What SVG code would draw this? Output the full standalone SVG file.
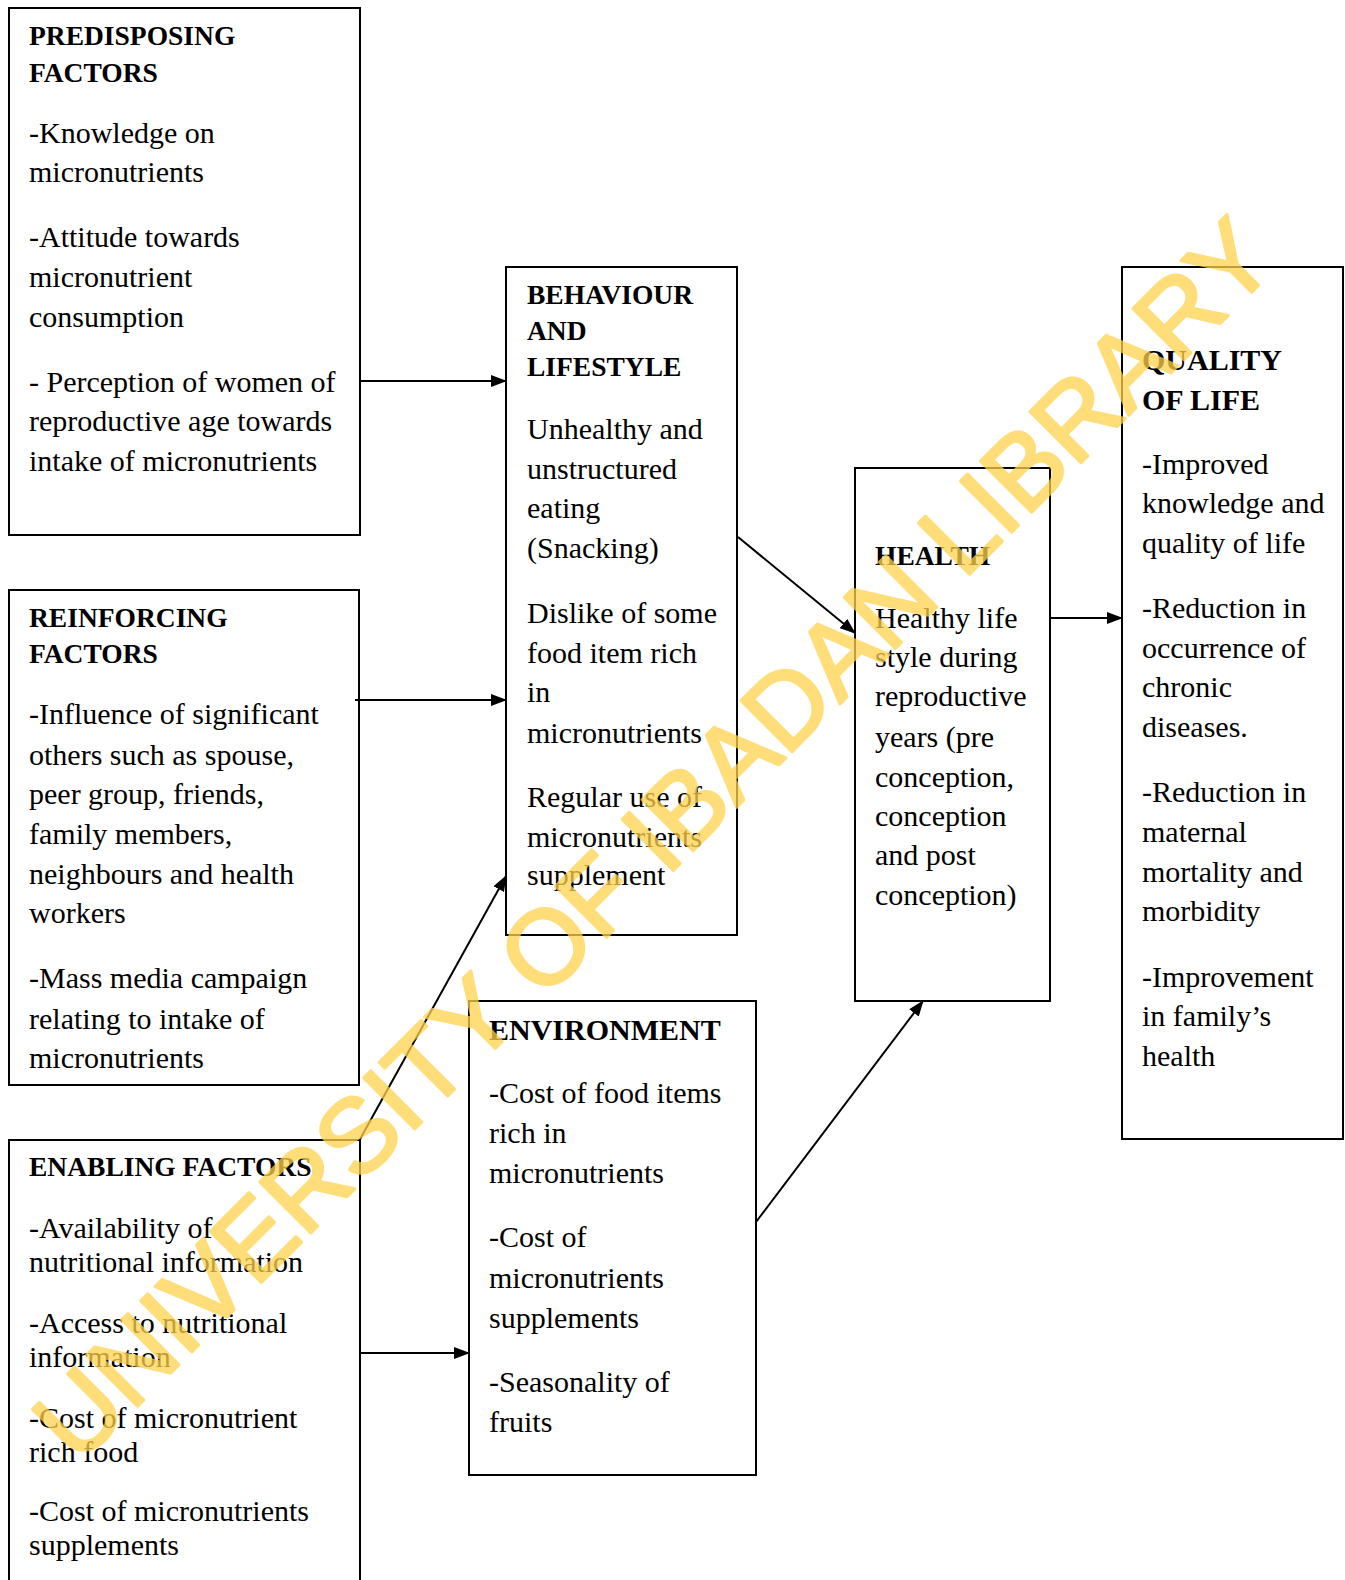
<svg xmlns="http://www.w3.org/2000/svg" width="1345" height="1580" viewBox="0 0 1345 1580">
<defs>
<marker id="ah" markerWidth="16" markerHeight="12" refX="15" refY="6" orient="auto" markerUnits="userSpaceOnUse">
<path d="M0,0 L16,6 L0,12 z" fill="#000"/>
</marker>
<style>
.box{fill:#fff;stroke:#000;stroke-width:2}
.t{font-family:"Liberation Serif","Times New Roman",serif;font-size:30px;fill:#000}
.h{font-family:"Liberation Serif","Times New Roman",serif;font-size:27.5px;font-weight:bold;fill:#000}
.hl{font-family:"Liberation Serif","Times New Roman",serif;font-size:30px;font-weight:bold;fill:#000}
.c{stroke:#000;stroke-width:2;fill:none;marker-end:url(#ah)}
.wm{font-family:"Liberation Sans",Arial,sans-serif;font-size:105px;fill:#FFD24D;stroke:#FFD24D;stroke-width:3;stroke-linejoin:round;opacity:0.75}
</style>
</defs>
<rect width="1345" height="1580" fill="#fff"/>
<g id="predisposing">
<rect class="box" x="9" y="8" width="351" height="527"/>
<text class="h" x="29" y="45">PREDISPOSING</text>
<text class="h" x="29" y="82">FACTORS</text>
<text class="t" x="29" y="143">-Knowledge on</text>
<text class="t" x="29" y="182">micronutrients</text>
<text class="t" x="29" y="247">-Attitude towards</text>
<text class="t" x="29" y="287">micronutrient</text>
<text class="t" x="29" y="327">consumption</text>
<text class="t" x="29" y="392">- Perception of women of</text>
<text class="t" x="29" y="431">reproductive age towards</text>
<text class="t" x="29" y="471">intake of micronutrients</text>
</g>
<g id="reinforcing">
<rect class="box" x="9" y="590" width="350" height="495"/>
<text class="h" x="29" y="627">REINFORCING</text>
<text class="h" x="29" y="663">FACTORS</text>
<text class="t" x="29" y="724">-Influence of significant</text>
<text class="t" x="29" y="765">others such as spouse,</text>
<text class="t" x="29" y="804">peer group, friends,</text>
<text class="t" x="29" y="844">family members,</text>
<text class="t" x="29" y="884">neighbours and health</text>
<text class="t" x="29" y="923">workers</text>
<text class="t" x="29" y="988">-Mass media campaign</text>
<text class="t" x="29" y="1029">relating to intake of</text>
<text class="t" x="29" y="1068">micronutrients</text>
</g>
<g id="enabling">
<rect class="box" x="9" y="1140" width="351" height="460"/>
<text class="h" x="29" y="1176">ENABLING FACTORS</text>
<text class="t" x="29" y="1238">-Availability of</text>
<text class="t" x="29" y="1272">nutritional information</text>
<text class="t" x="29" y="1333">-Access to nutritional</text>
<text class="t" x="29" y="1367">information</text>
<text class="t" x="29" y="1428">-Cost of micronutrient</text>
<text class="t" x="29" y="1462">rich food</text>
<text class="t" x="29" y="1521">-Cost of micronutrients</text>
<text class="t" x="29" y="1555">supplements</text>
</g>
<g id="behaviour">
<rect class="box" x="506" y="267" width="231" height="668"/>
<text class="h" x="527" y="304">BEHAVIOUR</text>
<text class="h" x="527" y="340">AND</text>
<text class="h" x="527" y="376">LIFESTYLE</text>
<text class="t" x="527" y="439">Unhealthy and</text>
<text class="t" x="527" y="479">unstructured</text>
<text class="t" x="527" y="518">eating</text>
<text class="t" x="527" y="558">(Snacking)</text>
<text class="t" x="527" y="623">Dislike of some</text>
<text class="t" x="527" y="663">food item rich</text>
<text class="t" x="527" y="702">in</text>
<text class="t" x="527" y="743">micronutrients</text>
<text class="t" x="527" y="807">Regular use of</text>
<text class="t" x="527" y="847">micronutrients</text>
<text class="t" x="527" y="885">supplement</text>
</g>
<g id="environment">
<rect class="box" x="469" y="1001" width="287" height="474"/>
<text class="hl" x="489" y="1040">ENVIRONMENT</text>
<text class="t" x="489" y="1103">-Cost of food items</text>
<text class="t" x="489" y="1143">rich in</text>
<text class="t" x="489" y="1183">micronutrients</text>
<text class="t" x="489" y="1247">-Cost of</text>
<text class="t" x="489" y="1288">micronutrients</text>
<text class="t" x="489" y="1328">supplements</text>
<text class="t" x="489" y="1392">-Seasonality of</text>
<text class="t" x="489" y="1432">fruits</text>
</g>
<g id="health">
<rect class="box" x="855" y="468" width="195" height="533"/>
<text class="h" x="875" y="565">HEALTH</text>
<text class="t" x="875" y="628">Healthy life</text>
<text class="t" x="875" y="667">style during</text>
<text class="t" x="875" y="706">reproductive</text>
<text class="t" x="875" y="747">years (pre</text>
<text class="t" x="875" y="787">conception,</text>
<text class="t" x="875" y="826">conception</text>
<text class="t" x="875" y="865">and post</text>
<text class="t" x="875" y="905">conception)</text>
</g>
<g id="quality-of-life">
<rect class="box" x="1122" y="267" width="221" height="872"/>
<text class="hl" x="1142" y="370">QUALITY</text>
<text class="hl" x="1142" y="410">OF LIFE</text>
<text class="t" x="1142" y="474">-Improved</text>
<text class="t" x="1142" y="513">knowledge and</text>
<text class="t" x="1142" y="553">quality of life</text>
<text class="t" x="1142" y="618">-Reduction in</text>
<text class="t" x="1142" y="658">occurrence of</text>
<text class="t" x="1142" y="697">chronic</text>
<text class="t" x="1142" y="737">diseases.</text>
<text class="t" x="1142" y="802">-Reduction in</text>
<text class="t" x="1142" y="842">maternal</text>
<text class="t" x="1142" y="882">mortality and</text>
<text class="t" x="1142" y="921">morbidity</text>
<text class="t" x="1142" y="987">-Improvement</text>
<text class="t" x="1142" y="1026">in family’s</text>
<text class="t" x="1142" y="1066">health</text>
</g>
<g id="connectors">
<line class="c" x1="360" y1="381" x2="506" y2="381"/>
<line class="c" x1="355" y1="700" x2="506" y2="700"/>
<line class="c" x1="359" y1="1141" x2="506" y2="876"/>
<line class="c" x1="360" y1="1353" x2="469" y2="1353"/>
<line class="c" x1="738" y1="537" x2="855" y2="633"/>
<line class="c" x1="756" y1="1222" x2="923" y2="1001"/>
<line class="c" x1="1050" y1="618" x2="1122" y2="618"/>
</g>
<g id="watermark" transform="translate(652,838) rotate(-45)">
<text class="wm" x="0" y="38" text-anchor="middle">UNIVERSITY OF IBADAN LIBRARY</text>
</g>
</svg>
